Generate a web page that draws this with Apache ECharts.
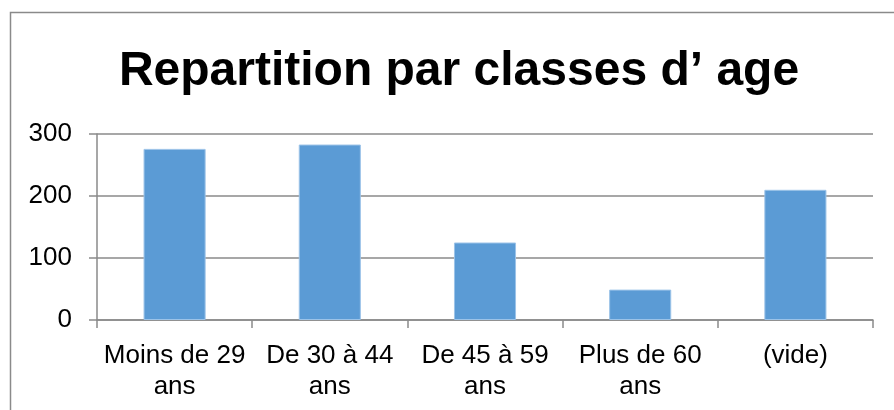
<!DOCTYPE html>
<html>
<head>
<meta charset="utf-8">
<script src="https://cdn.jsdelivr.net/npm/echarts@6/dist/echarts.min.js"></script>
<style>
  html, body { margin: 0; padding: 0; background: #fff; }
  #chart { width: 894px; height: 410px; }
</style>
</head>
<body>
<div id="chart"></div>
<script>
// Age groups and head counts
const categories = ['Moins de 29\nans', 'De 30 à 44\nans', 'De 45 à 59\nans', 'Plus de 60\nans', '(vide)'];
const counts = [276, 283, 125, 49, 210];
const yTicks = [0, 100, 200, 300];

const FONT = '"Liberation Sans", Arial, Helvetica, sans-serif';
const chart = echarts.init(document.getElementById('chart'), null, { renderer: 'canvas' });

chart.setOption({
  animation: false,
  backgroundColor: '#ffffff',
  title: {
    text: 'Repartition par classes d\u2019 age',
    left: 454,
    top: 43,
    textAlign: 'center',
    textStyle: { fontFamily: FONT, fontSize: 48, fontWeight: 'bold', color: '#000' }
  },
  graphic: [{
    type: 'polyline',
    silent: true,
    shape: { points: [[10.5, 410], [10.5, 12.5], [894, 12.5]] },
    style: { stroke: '#8a8a8a', lineWidth: 1.5, fill: null }
  }],
  grid: { left: 97, right: 21, top: 134, bottom: 90 },
  xAxis: {
    type: 'category',
    data: categories,
    axisLine: { lineStyle: { color: '#8a8a8a', width: 1.5 } },
    axisTick: { show: true, length: 8, inside: false, alignWithLabel: false, lineStyle: { color: '#8a8a8a', width: 1.5 } },
    axisLabel: { margin: 20, interval: 0, fontFamily: FONT, fontSize: 26, color: '#000', lineHeight: 31 }
  },
  yAxis: {
    type: 'value',
    min: yTicks[0],
    max: yTicks[yTicks.length - 1],
    interval: 100,
    axisLine: { show: true, lineStyle: { color: '#8a8a8a', width: 1.5 } },
    axisTick: { show: true, length: 8, lineStyle: { color: '#8a8a8a', width: 1.5 } },
    splitLine: { show: true, lineStyle: { color: '#8a8a8a', width: 1.5 } },
    axisLabel: { margin: 25, fontFamily: FONT, fontSize: 26, color: '#000' }
  },
  series: [{
    type: 'bar',
    data: counts,
    barWidth: '40%',
    itemStyle: { color: '#5b9bd5', borderColor: '#9cc3e8', borderWidth: 1 }
  }]
});
</script>
</body>
</html>
